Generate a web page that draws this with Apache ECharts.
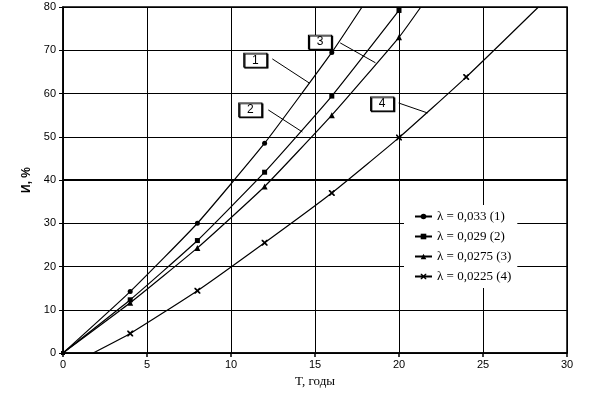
<!DOCTYPE html>
<html>
<head>
<meta charset="utf-8">
<script src="https://cdn.jsdelivr.net/npm/echarts@6/dist/echarts.min.js"></script>
<style>html,body{margin:0;padding:0;background:#fff}#c{width:591px;height:395px}</style>
</head>
<body>
<div id="c"></div>
<script>
// Data
var seriesNames = ['λ = 0,033 (1)', 'λ = 0,029 (2)', 'λ = 0,0275 (3)', 'λ = 0,0225 (4)'];
var curve1 = [[0, 0], [4, 14.2], [8, 30], [12, 48.5], [16, 69.5], [17.8, 80]];
var curve2 = [[0, 0], [4, 12.3], [8, 26], [12, 41.8], [16, 59.4], [20, 79.2]];
var curve3 = [[0, 0], [4, 11.6], [8, 24.3], [12, 38.5], [16, 55], [20, 73], [21.3, 80]];
var curve4 = [[1.8, 0], [4, 4.5], [8, 14.4], [12, 25.5], [16, 37], [20, 49.8], [24, 63.8], [28.3, 80]];
var xTicks = [0, 5, 10, 15, 20, 25, 30];
var yTicks = [0, 10, 20, 30, 40, 50, 60, 70, 80];
var curveLabels = ['1', '2', '3', '4'];

var symbols = ['circle', 'rect', 'triangle', 'path://M0,0 L2,0 L5,3 L8,0 L10,0 L10,2 L7,5 L10,8 L10,10 L8,10 L5,7 L2,10 L0,10 L0,8 L3,5 L0,2 Z'];
var sizes = [5, 5, 6, 6];
var curves = [curve1, curve2, curve3, curve4];

function markData(arr, idx) {
  return arr.map(function (p, i) {
    var endpoint = (p[1] === 0 && i === 0 && idx === 3) || p[1] === 80;
    var isOrigin = p[0] === 0 && p[1] === 0;
    var d = { value: p };
    if (endpoint) d.symbol = 'none';
    if (isOrigin) d.symbolSize = 4;
    return d;
  });
}

var series = curves.map(function (c, i) {
  return {
    name: seriesNames[i],
    type: 'line',
    smooth: 0.15,
    data: markData(c, i),
    symbol: symbols[i],
    symbolSize: sizes[i],
    showAllSymbol: true,
    itemStyle: { color: '#000' },
    lineStyle: { color: '#000', width: 1.2 },
    z: 3
  };
});

// annotation helper series
var boxes = [
  { name: curveLabels[0], coord: [11.45, 67.7] },
  { name: curveLabels[1], coord: [11.15, 56.2] },
  { name: curveLabels[2], coord: [15.3, 71.9] },
  { name: curveLabels[3], coord: [19.0, 57.6] }
];
var leaders = [
  [{ coord: [12.46, 68.0] }, { coord: [14.67, 62.4] }],
  [{ coord: [12.22, 56.2] }, { coord: [14.25, 51.1] }],
  [{ coord: [16.5, 71.7] }, { coord: [18.6, 67.1] }],
  [{ coord: [19.98, 57.8] }, { coord: [21.7, 55.5] }]
];
series.push({
  name: 'annot',
  type: 'line',
  data: [],
  silent: true,
  z: 5,
  markLine: {
    silent: true,
    symbol: ['none', 'none'],
    label: { show: false },
    lineStyle: { color: '#000', width: 1, type: 'solid' },
    data: leaders.concat([[{ coord: [0, 40] }, { coord: [30, 40] }]]).map(function (d, i, a) {
      if (i === a.length - 1) {
        d[0].lineStyle = { width: 2.2, color: '#000', type: 'solid' };
      }
      return d;
    })
  },
  markPoint: {
    silent: true,
    symbol: 'rect',
    symbolSize: [23, 14],
    itemStyle: { color: '#fff', borderColor: '#000', borderWidth: 1, shadowColor: '#000', shadowOffsetX: 1, shadowOffsetY: 1, shadowBlur: 0 },
    label: { show: true, formatter: '{b}', color: '#000', fontSize: 12, fontFamily: 'Liberation Sans' },
    data: boxes
  }
});

var chart = echarts.init(document.getElementById('c'));
chart.setOption({
  animation: false,
  backgroundColor: '#fff',
  grid: { left: 63, right: 24, top: 7, bottom: 42, show: true, borderColor: '#000', borderWidth: 1.5 },
  legend: {
    data: seriesNames,
    orient: 'vertical',
    left: 404,
    top: 205,
    itemWidth: 17,
    itemHeight: 7,
    itemGap: 7,
    padding: [5, 6, 5, 10],
    backgroundColor: '#fff',
    textStyle: { fontFamily: 'Liberation Serif', fontSize: 13, color: '#000' },
    selectedMode: false
  },
  xAxis: {
    type: 'value',
    min: xTicks[0],
    max: xTicks[xTicks.length - 1],
    interval: 5,
    name: 'T, годы',
    nameLocation: 'middle',
    nameGap: 21,
    nameTextStyle: { fontFamily: 'Liberation Serif', fontSize: 13, color: '#000' },
    axisLine: { lineStyle: { color: '#000', width: 1.5 } },
    axisTick: { show: true, length: 4, lineStyle: { color: '#000', width: 1.5 } },
    axisLabel: { color: '#000', fontSize: 11, fontFamily: 'Liberation Sans', margin: 6 },
    splitLine: { show: true, lineStyle: { color: '#000', width: 1 } }
  },
  yAxis: {
    type: 'value',
    min: yTicks[0],
    max: yTicks[yTicks.length - 1],
    interval: 10,
    name: 'И, %',
    nameLocation: 'middle',
    nameGap: 28,
    nameTextStyle: { fontFamily: 'Liberation Sans', fontSize: 12, fontWeight: 'bold', color: '#000' },
    axisLine: { lineStyle: { color: '#000', width: 1.5 } },
    axisTick: { show: true, length: 4, lineStyle: { color: '#000', width: 1 } },
    axisLabel: { color: '#000', fontSize: 11, fontFamily: 'Liberation Sans', margin: 7 },
    splitLine: { show: true, lineStyle: { color: '#000', width: 1 } }
  },
  series: series
});
</script>
</body>
</html>
